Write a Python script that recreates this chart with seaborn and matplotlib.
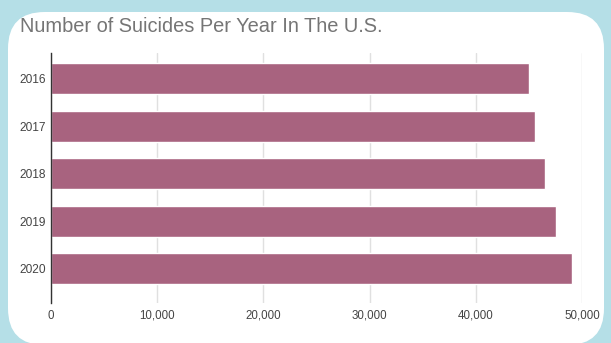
import matplotlib
matplotlib.use("Agg")
import matplotlib.pyplot as plt
from matplotlib.patches import FancyBboxPatch
import seaborn as sns
import pandas as pd

years = ["2016", "2017", "2018", "2019", "2020"]
suicides = [45000, 45600, 46550, 47580, 49090]
x_ticks = [0, 10000, 20000, 30000, 40000, 50000]
x_tick_labels = ["0", "10,000", "20,000", "30,000", "40,000", "50,000"]
title = "Number of Suicides Per Year In The U.S."
x_label = "Number of Suicides"

sns.set_theme(style="white")
plt.rcParams["font.family"] = ["Liberation Sans", "DejaVu Sans"]

W, H = 611, 343
fig = plt.figure(figsize=(W / 100, H / 100), dpi=100)
fig.patch.set_facecolor("#b5dfe7")

card = FancyBboxPatch((8 / W, 1 - 345 / H), (604 - 8) / W, (345 - 12) / H,
                      boxstyle="round,pad=0,rounding_size=0.06",
                      transform=fig.transFigure, facecolor="white",
                      edgecolor="none", zorder=-10, mutation_aspect=W / H)
fig.patches.append(card)

ax = fig.add_axes([51 / W, 1 - 303 / H, (582 - 51) / W, (303 - 53) / H])
ax.set_facecolor("none")
ax.set_zorder(1)

df = pd.DataFrame({"Year": years, "Suicides": suicides})
sns.barplot(data=df, y="Year", x="Suicides", orient="h", color="#a8637f",
            saturation=1, width=0.65, ax=ax, zorder=3)

ax.set_xlim(0, 50000)
ax.set_ylim(4.72, -0.54)
ax.set_xticks(x_ticks)
ax.set_xticklabels(x_tick_labels)
ax.tick_params(axis="x", length=0, pad=5, labelsize=8.3, labelcolor="#444444")
ax.tick_params(axis="y", length=0, pad=4, labelsize=8.6, labelcolor="#444444")
ax.grid(axis="x", color="#e0e0e0", linewidth=1, zorder=0)
ax.grid(axis="y", visible=False)
ax.set_axisbelow(True)
for s in ["top", "right", "bottom"]:
    ax.spines[s].set_visible(False)
ax.spines["left"].set_color("#333333")
ax.spines["left"].set_linewidth(1)
ax.spines["left"].set_zorder(4)
ax.set_ylabel("")
ax.set_xlabel(x_label, fontsize=8.3, color="#444444", labelpad=15)

fig.text(20 / W, 1 - 27 / H, title, fontsize=14.4, color="#757575",
         ha="left", va="center", zorder=5)

fig.savefig("out.png", dpi=100, facecolor=fig.get_facecolor())
